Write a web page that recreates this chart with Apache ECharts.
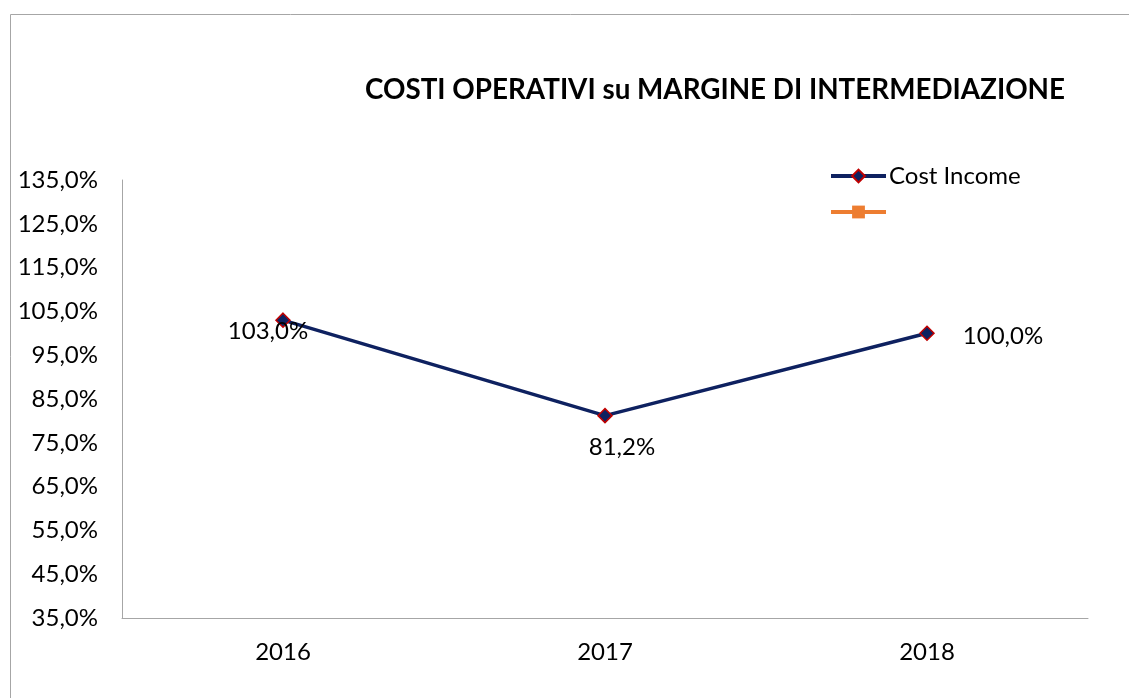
<!DOCTYPE html>
<html><head><meta charset="utf-8">
<script src="https://cdn.jsdelivr.net/npm/echarts@6/dist/echarts.min.js"></script>
<style>html,body{margin:0;padding:0;background:#fff}#c{width:1129px;height:698px}</style>
</head><body><div id="c"></div>
<script>
const categories = ['2016', '2017', '2018'];
const costIncome = [103.0, 81.2, 100.0];
const seriesNames = ['Cost Income', ' '];
const yMin = 35, yMax = 135, yStep = 10;

const fmt = v => v.toFixed(1).replace('.', ',') + '%';
const FONT = 'Lato';
const chart = echarts.init(document.getElementById('c'));
const labelOffsets = [[-15, 11], [17, 32], [76, 3]];
chart.setOption({
  animation: false,
  graphic: [{type: 'rect', shape: {x: 10.5, y: 14.5, width: 1300, height: 900},
    style: {fill: 'none', stroke: '#A6A6A6', lineWidth: 1}, silent: true}],
  title: {text: 'COSTI OPERATIVI su MARGINE DI INTERMEDIAZIONE', left: 360, top: 71,
    textStyle: {fontFamily: FONT, fontWeight: 'bold', fontSize: 27.8, color: '#000'}},
  legend: {data: seriesNames, orient: 'vertical', left: 824, top: 159, itemWidth: 55, itemHeight: 16,
    itemGap: 12, lineStyle: {width: 4},
    textStyle: {fontFamily: FONT, fontSize: 24, color: '#000', padding: [0, 0, 0, -2]}},
  grid: {left: 122, top: 180, right: 41, bottom: 80},
  xAxis: {type: 'category', data: categories, boundaryGap: true,
    axisLine: {lineStyle: {color: '#A6A6A6', width: 1}}, axisTick: {show: false},
    axisLabel: {fontFamily: FONT, fontSize: 24, color: '#000', margin: 22}},
  yAxis: {type: 'value', min: yMin, max: yMax, interval: yStep,
    axisLine: {show: true, lineStyle: {color: '#A6A6A6', width: 1}}, axisTick: {show: false},
    splitLine: {show: false},
    axisLabel: {fontFamily: FONT, fontSize: 24, color: '#000', margin: 24, formatter: fmt}},
  series: [
    {name: seriesNames[0], type: 'line',
      data: costIncome.map((v, i) => ({value: v, label: {show: true, position: 'inside', offset: labelOffsets[i]}})),
      lineStyle: {color: '#0E2160', width: 3.5}, symbol: 'diamond', symbolSize: 14,
      itemStyle: {color: '#0E2160', borderColor: '#C00000', borderWidth: 1.5},
      label: {fontFamily: FONT, fontSize: 24, color: '#000', formatter: p => fmt(p.value)}},
    {name: seriesNames[1], type: 'line', data: [], lineStyle: {color: '#ED7D31', width: 3.5},
      symbol: 'rect', symbolSize: 14, itemStyle: {color: '#ED7D31'}}
  ]
});
</script></body></html>
